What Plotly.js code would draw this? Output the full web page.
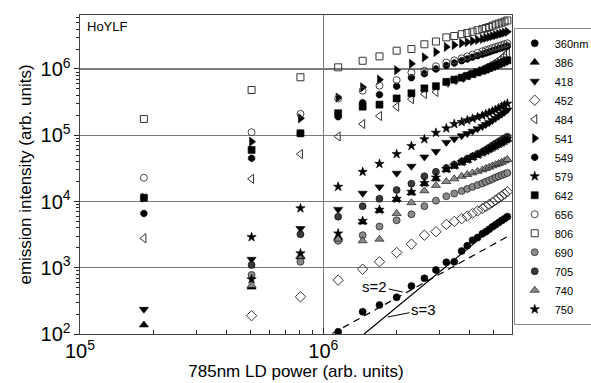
<!DOCTYPE html>
<html>
<head>
<meta charset="utf-8">
<script src="https://cdn.plot.ly/plotly-3.0.1.min.js"></script>
<style>html,body{margin:0;padding:0;background:#fff;}#chart{width:591px;height:383px;}</style>
</head>
<body>
<div id="chart"></div>
<script>
// ---- data ----
const seriesNames = ["360nm","386","418","452","484","541","549","579","642","656","806","690","705","740","750"];
const xLeft  = [1.83e5, 5.07e5, 8.05e5];
const xRight = [1.15e6,1.45e6,1.7e6,2.0e6,2.3e6,2.6e6,2.9e6,3.2e6,3.45e6,3.7e6,3.9e6,4.1e6,4.3e6,4.5e6,4.65e6,4.8e6,4.95e6,5.1e6,5.25e6,5.4e6,5.55e6,5.7e6];

const y360L = [null,null,null];
const y360R = [108,217,274,358,530,693,925,1210,1230,1790,2150,2600,2850,3250,3500,3800,4150,4450,4800,5150,5500,5900];
const y386L = [137,510,1460];
const y386R = [2870,4900,7300,10800,13500,18600,22000,30000,34000,38500,42000,46000,50000,54000,57500,61000,65000,69000,73000,77000,82000,87000];
const y418L = [236,1340,3900];
const y418R = [7600,13300,16600,26700,34000,47000,57000,78000,88000,98000,106000,115000,125000,136000,145000,155000,167000,180000,193000,207000,222000,240000];
const y452L = [null,189,365];
const y452R = [650,950,1230,1700,2270,3100,3500,4500,5000,5500,6000,6600,7200,7800,8400,9000,9700,10500,11300,12100,13000,14000];
const y484L = [2780,22000,52000];
const y484R = [96000,148000,195000,270000,350000,420000,450000,620000,680000,740000,800000,860000,920000,980000,1040000,1100000,1170000,1250000,1350000,1450000,1600000,1750000];
const y541L = [11400,80000,180000];
const y541R = [370000,530000,690000,960000,1200000,1500000,1800000,2150000,2300000,2450000,2550000,2650000,2750000,2850000,2950000,3050000,3150000,3250000,3350000,3450000,3550000,3650000];
const y549L = [6600,45000,107000];
const y549R = [190000,310000,410000,550000,740000,850000,1000000,1130000,1230000,1330000,1420000,1510000,1590000,1670000,1740000,1810000,1880000,1950000,2020000,2080000,2150000,2220000];
const y579L = [null,2900,7900];
const y579R = [16700,28000,37000,52000,69000,87000,109000,127000,148000,158000,168000,178000,188000,198000,208000,218000,230000,242000,255000,270000,285000,300000];
const y642L = [11400,60000,107000];
const y642R = [215000,270000,290000,360000,430000,510000,550000,640000,690000,740000,790000,840000,890000,940000,980000,1030000,1080000,1130000,1180000,1230000,1290000,1350000];
const y656L = [22800,111000,210000];
const y656R = [360000,470000,560000,680000,880000,940000,1100000,1250000,1350000,1450000,1550000,1650000,1750000,1850000,1930000,2000000,2080000,2150000,2220000,2300000,2370000,2450000];
const y806L = [176000,482000,750000];
const y806R = [1060000,1330000,1550000,1890000,2000000,2360000,2600000,3000000,3150000,3350000,3500000,3650000,3850000,4000000,4150000,4300000,4500000,4700000,4850000,5000000,5200000,5400000];
const y690L = [null,780,1230];
const y690R = [2550,3100,4200,5200,6400,8500,10300,12000,13200,14400,15500,16600,17700,18800,19800,20800,21800,23000,24000,25000,26000,27000];
const y705L = [null,1100,3200];
const y705R = [5900,8500,11000,14900,18600,24000,28000,32000,36000,40000,44000,48000,52000,56000,60000,65000,70000,75000,80000,85000,90000,95000];
const y740L = [null,540,1500];
const y740R = [2700,2550,2700,6600,9600,14500,17500,20000,22000,24000,25500,27000,28500,30000,31500,33000,34500,36000,37500,39000,41000,43000];
const y750L = [null,670,1650];
const y750R = [3300,5100,7500,11000,14000,19000,23000,31000,35000,39500,43000,47000,51000,55000,58500,62000,66000,70000,74000,78000,83000,88000];

// slope guide lines (s=2 dashed, s=3 solid)
const s2x = [1.09e6, 5.75e6];
const s2y = [102, 3000];
const s3x = [1.47e6, 4.5e6];
const s3y = [100, 2950];

// ---- styles ----
const FONT = "Liberation Sans, Arial, Helvetica, sans-serif";
const styles = [
  {symbol:"circle", color:"#000", line:"#000", size:7},
  {symbol:"triangle-up", color:"#000", line:"#000", size:8},
  {symbol:"triangle-down", color:"#000", line:"#000", size:8},
  {symbol:"diamond-open", color:"#333", line:"#333", size:8},
  {symbol:"triangle-left-open", color:"#333", line:"#333", size:8},
  {symbol:"triangle-right", color:"#000", line:"#000", size:8},
  {symbol:"octagon", color:"#000", line:"#000", size:7},
  {symbol:"star", color:"#000", line:"#000", size:7},
  {symbol:"square", color:"#000", line:"#000", size:7},
  {symbol:"circle-open", color:"#444", line:"#444", size:7},
  {symbol:"square-open", color:"#333", line:"#333", size:7},
  {symbol:"circle", color:"#8a8a8a", line:"#000", size:7},
  {symbol:"circle", color:"#3a3a3a", line:"#000", size:7},
  {symbol:"triangle-up", color:"#8a8a8a", line:"#000", size:8},
  {symbol:"star", color:"#000", line:"#000", size:7}
];
const leftVals  = [y360L,y386L,y418L,y452L,y484L,y541L,y549L,y579L,y642L,y656L,y806L,y690L,y705L,y740L,y750L];
const rightVals = [y360R,y386R,y418R,y452R,y484R,y541R,y549R,y579R,y642R,y656R,y806R,y690R,y705R,y740R,y750R];

const traces = [];
traces.push({x:s2x, y:s2y, mode:"lines", line:{color:"#000", width:1.2, dash:"7px,5px"}, showlegend:false, hoverinfo:"skip"});
traces.push({x:s3x, y:s3y, mode:"lines", line:{color:"#000", width:1.2}, showlegend:false, hoverinfo:"skip"});
seriesNames.forEach((name,i)=>{
  const st = styles[i];
  const open = st.symbol.indexOf("open") >= 0;
  traces.push({
    x: xLeft.concat(xRight),
    y: leftVals[i].concat(rightVals[i]),
    name: name,
    type: "scatter",
    mode: "markers",
    marker: {symbol: st.symbol, size: st.size, color: st.color,
             line: {color: st.line, width: open ? 1 : 0.6}}
  });
});

const layout = {
  width: 591, height: 383,
  margin: {l:80, r:79, t:15, b:49, pad:0, autoexpand:false},
  paper_bgcolor: "#fff", plot_bgcolor: "#fff",
  font: {family: FONT, color: "#000"},
  showlegend: true,
  legend: {x: 1.004, xanchor: "left", y: 0.96, yanchor: "top",
           bordercolor: "#888", borderwidth: 1, bgcolor: "#fff",
           font: {size: 11, family: FONT}, itemwidth: 30, tracegroupgap: 0},
  xaxis: {
    type: "log", range: [5, 6.775], dtick: 1, exponentformat: "power",
    showgrid: true, gridcolor: "#7a7a7a", gridwidth: 1.3,
    showline: true, linecolor: "#444", linewidth: 1.2, mirror: true,
    ticks: "inside", ticklen: 6, tickcolor: "#222",
    minor: {ticks: "inside", ticklen: 4, dtick: "D1", tickcolor: "#222", showgrid: false},
    tickfont: {size: 16, family: FONT},
    zeroline: false,
    title: {text: "785nm LD power (arb. units)", font: {size: 17, family: FONT}, standoff: 2}
  },
  yaxis: {
    type: "log", range: [2, 6.815], dtick: 1, exponentformat: "power",
    showgrid: true, gridcolor: "#7a7a7a", gridwidth: 1.3,
    showline: true, linecolor: "#444", linewidth: 1.2, mirror: true,
    ticks: "outside", ticklen: 5, tickcolor: "#222",
    minor: {ticks: "outside", ticklen: 3, dtick: "D1", tickcolor: "#222", showgrid: false},
    tickfont: {size: 16, family: FONT},
    zeroline: false,
    title: {text: "emission intensity (arb. units)", font: {size: 17, family: FONT}, standoff: 4}
  },
  annotations: [
    {xref:"paper", yref:"paper", x:0.012, y:0.965, xanchor:"left", yanchor:"middle",
     text:"HoYLF", showarrow:false, font:{size:13, family:FONT}},
    {x:6.326, y:2.634, text:"s=2", showarrow:true, arrowhead:0, arrowwidth:1, arrowcolor:"#000",
     ax:-28, ay:-6, font:{size:15, family:FONT}},
    {x:6.264, y:2.257, text:"s=3", showarrow:true, arrowhead:0, arrowwidth:1, arrowcolor:"#000",
     ax:36, ay:-7, font:{size:15, family:FONT}}
  ]
};

Plotly.newPlot("chart", traces, layout, {displayModeBar:false, staticPlot:true});
</script>
</body>
</html>
